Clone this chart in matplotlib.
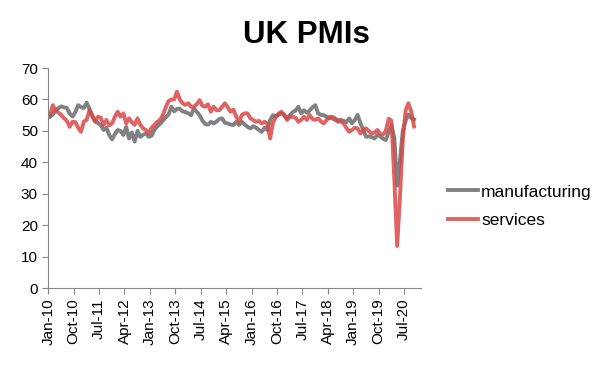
import numpy as np
import matplotlib
matplotlib.use("Agg")
from matplotlib import pyplot as plt

plt.rcParams["font.family"] = ["Liberation Sans", "DejaVu Sans"]

# monthly PMI readings, Jan 2010 - Oct 2020
manufacturing = [
    54.5, 55.3, 56.5, 57.3, 57.8, 57.5, 57.3, 55.5, 54.6, 56.0, 58.2, 57.6,  # 2010
    57.3, 59.0, 57.0, 54.6, 53.0, 52.5, 51.8, 50.3, 51.0, 48.7, 47.3, 49.0,  # 2011
    50.3, 50.0, 48.7, 51.3, 47.6, 49.5, 46.6, 50.0, 48.1, 48.8, 49.2, 48.1,  # 2012
    48.5, 50.3, 51.5, 52.2, 53.3, 54.3, 55.2, 57.7, 56.2, 57.0, 57.0, 56.2,  # 2013
    56.0, 55.6, 55.0, 57.2, 56.1, 55.0, 53.3, 52.2, 52.0, 52.9, 52.4, 53.0,  # 2014
    53.8, 54.0, 52.6, 52.4, 52.0, 51.9, 52.9, 51.9, 52.9, 52.0, 51.3, 50.8,  # 2015
    51.5, 51.0, 50.3, 49.7, 51.0, 50.3, 53.5, 55.0, 54.5, 55.2, 55.6, 55.0,  # 2016
    54.0, 55.0, 56.0, 56.5, 57.7, 55.6, 56.6, 55.8, 56.5, 57.5, 58.2, 55.6,  # 2017
    55.1, 55.0, 54.5, 54.0, 54.5, 54.0, 52.9, 53.5, 53.2, 52.8, 54.0, 52.4,  # 2018
    53.5, 55.1, 52.4, 50.3, 48.1, 48.3, 48.0, 47.6, 48.7, 48.3, 47.5, 47.1,  # 2019
    49.7, 51.7, 47.8, 32.6, 40.7, 50.1, 53.3, 55.2, 54.1, 53.7,              # 2020
]
services = [
    55.0, 58.2, 56.5, 55.8, 55.1, 54.0, 53.2, 51.3, 52.9, 52.8, 51.0, 49.7,
    53.0, 53.5, 56.6, 55.0, 53.0, 54.5, 54.2, 51.9, 53.5, 51.8, 52.4, 54.5,
    56.1, 54.5, 55.6, 52.4, 54.0, 52.8, 51.9, 54.0, 52.0, 50.8, 50.3, 49.2,
    51.0, 51.9, 52.9, 53.5, 55.1, 57.5, 59.5, 60.0, 60.0, 62.5, 60.0, 58.8,
    58.3, 58.8, 57.7, 57.7, 58.5, 59.8, 58.0, 57.7, 58.5, 56.1, 57.7, 56.6,
    56.6, 57.7, 58.8, 57.5, 56.1, 56.8, 54.5, 52.9, 55.1, 55.6, 55.6, 54.0,
    53.5, 52.9, 53.2, 52.4, 52.9, 52.3, 47.6, 52.5, 54.5, 55.5, 56.1, 55.1,
    53.5, 54.5, 54.5, 54.2, 52.9, 53.5, 54.5, 53.5, 55.1, 53.8, 53.5, 54.0,
    53.0, 52.4, 53.5, 54.5, 54.0, 53.5, 53.5, 53.0, 52.4, 51.0, 49.7, 50.3,
    51.0, 50.8, 49.2, 50.3, 50.8, 49.9, 49.2, 49.5, 50.3, 49.0, 48.9, 50.0,
    53.9, 53.2, 34.5, 13.4, 29.0, 47.1, 56.5, 58.8, 56.1, 51.4,
]
tick_labels = ["Jan-10", "Oct-10", "Jul-11", "Apr-12", "Jan-13", "Oct-13", "Jul-14", "Apr-15",
               "Jan-16", "Oct-16", "Jul-17", "Apr-18", "Jan-19", "Oct-19", "Jul-20"]

months = np.arange(len(manufacturing)) + 0.6
axis_col = "#868686"

fig = plt.figure(figsize=(5.99, 3.66), dpi=100)
ax = fig.add_axes([0.0806, 0.213, 0.622, 0.601])

ax.plot(months, manufacturing, color="#7a7a7a", lw=2.8, alpha=0.95, label="manufacturing")
ax.plot(months, services, color="#d94848", lw=2.8, alpha=0.85, label="services")

ax.set_xlim(0, 132)
ax.set_ylim(0, 70)
ax.set_yticks(range(0, 71, 10))
ax.set_xticks(np.arange(len(tick_labels)) * 9)
ax.set_xticklabels(tick_labels, rotation=90)
ax.tick_params(labelsize=11, colors="#000000", length=4, color=axis_col)
for side in ["top", "right"]:
    ax.spines[side].set_visible(False)
for side in ["left", "bottom"]:
    ax.spines[side].set_color(axis_col)

fig.text(0.511, 0.905, "UK PMIs", ha="center", va="center", fontsize=22.5, fontweight="bold")

fig.legend(loc="center left", bbox_to_anchor=(0.722, 0.437), frameon=False, fontsize=12.5,
           handlelength=1.75, handletextpad=0.15, labelspacing=0.75)

fig.savefig("out.png", dpi=100)
